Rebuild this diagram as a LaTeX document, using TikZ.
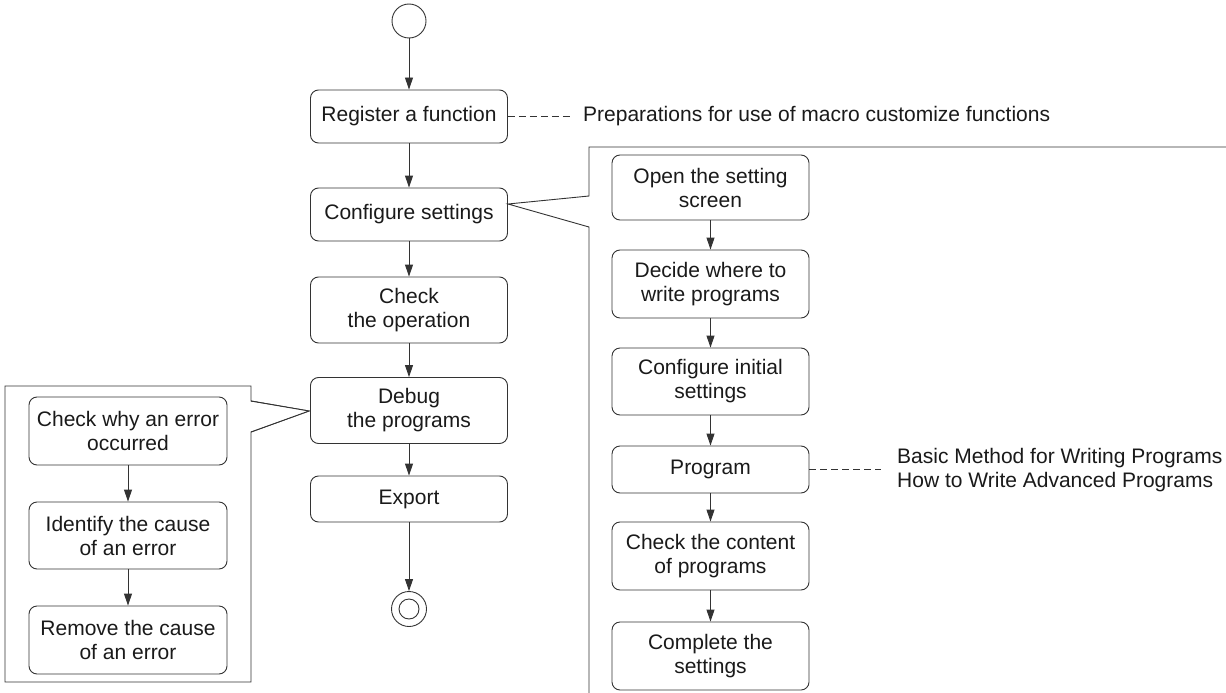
\documentclass[tikz,border=0pt]{standalone}
\usepackage{fontspec}
\setmainfont{Liberation Sans}
\usetikzlibrary{arrows.meta}
\definecolor{ln}{HTML}{333333}
\definecolor{tx}{HTML}{1A1A1A}
\tikzset{
  box/.style={draw=ln, line width=0.9pt, rounded corners=8pt, minimum width=197pt, align=center, inner sep=0pt, text=tx, font=\fontsize{21}{24}\selectfont},
  arr/.style={draw=ln, line width=0.9pt, -{Triangle[length=12pt,width=8pt]}},
  frame/.style={draw=ln, line width=0.9pt, line join=miter},
  note/.style={text=tx, font=\fontsize{21}{24}\selectfont, inner sep=0pt, align=left, anchor=west},
  dashln/.style={draw=ln, line width=0.9pt, dash pattern=on 7pt off 4pt},
  startc/.style={draw=ln, line width=0.9pt, circle, minimum size=34pt, inner sep=0pt},
}
\begin{document}
\begin{tikzpicture}[x=1pt,y=-1pt]
\useasboundingbox (0,0) rectangle (1226,693);
\fill[white] (0,0) rectangle (1226,693);
% callout frames
\coordinate (apR) at (508,204);
\coordinate (apL) at (309,411);
\draw[frame] (1240,147) -- (589,147) -- (589,196) -- (apR) -- (589,227) -- (589,700);
\draw[frame] (251,401) -- (251,386) -- (5,386) -- (5,682) -- (251,682) -- (251,432) -- (apL) -- cycle;
\fill[white] (252,402) -- (apL) -- (252,431) -- cycle;
\draw[frame] (251,401) -- (apL) -- (251,432);
% main column
\node[startc] (start) at (409,21) {};
\node[box, minimum height=53pt] (reg) at (409,116.5) {Register a function};
\node[box, minimum height=53pt] (conf) at (409,214.5) {Configure settings};
\node[box, minimum height=66pt] (chk) at (409,310) {Check\\the operation};
\node[box, minimum height=66pt] (dbg) at (409,410.5) {Debug\\the programs};
\node[box, minimum height=46pt] (exp) at (409,499) {Export};
\node[startc, minimum size=35pt] (end) at (409,609) {};
\node[draw=ln, line width=0.9pt, circle, minimum size=20pt, inner sep=0pt] (endin) at (end.center) {};
\draw[arr] (start) -- (reg);
\draw[arr] (reg) -- (conf);
\draw[arr] (conf) -- (chk);
\draw[arr] (chk) -- (dbg);
\draw[arr] (dbg) -- (exp);
\draw[arr] (exp) -- (end);
% left column
\node[box, minimum width=198pt, minimum height=68pt] (why) at (128,431) {Check why an error\\occurred};
\node[box, minimum width=198pt, minimum height=67pt] (ident) at (128,535.5) {Identify the cause\\of an error};
\node[box, minimum width=198pt, minimum height=68pt] (rem) at (128,640) {Remove the cause\\of an error};
\draw[arr] (why) -- (ident);
\draw[arr] (ident) -- (rem);
% right column
\node[box, minimum height=65pt] (open) at (710.5,187.5) {Open the setting\\screen};
\node[box, minimum height=68pt] (dec) at (710.5,284) {Decide where to\\write programs};
\node[box, minimum height=67pt] (init) at (710.5,381.5) {Configure initial\\settings};
\node[box, minimum height=47pt] (prog) at (710.5,469.5) {Program};
\node[box, minimum height=68pt] (cont) at (710.5,556) {Check the content\\of programs};
\node[box, minimum height=68pt] (comp) at (710.5,656) {Complete the\\settings};
\draw[arr] (open) -- (dec);
\draw[arr] (dec) -- (init);
\draw[arr] (init) -- (prog);
\draw[arr] (prog) -- (cont);
\draw[arr] (cont) -- (comp);
% notes
\node[note] (n1) at (583,116.5) {Preparations for use of macro customize functions};
\node[note] (n2) at (897,470) {Basic Method for Writing Programs\\How to Write Advanced Programs};
\draw[dashln] (reg.east) -- ([xshift=-10pt]n1.west);
\draw[dashln] (prog.east) -- ([xshift=-16pt]n2.west |- prog.east);
\end{tikzpicture}
\end{document}
